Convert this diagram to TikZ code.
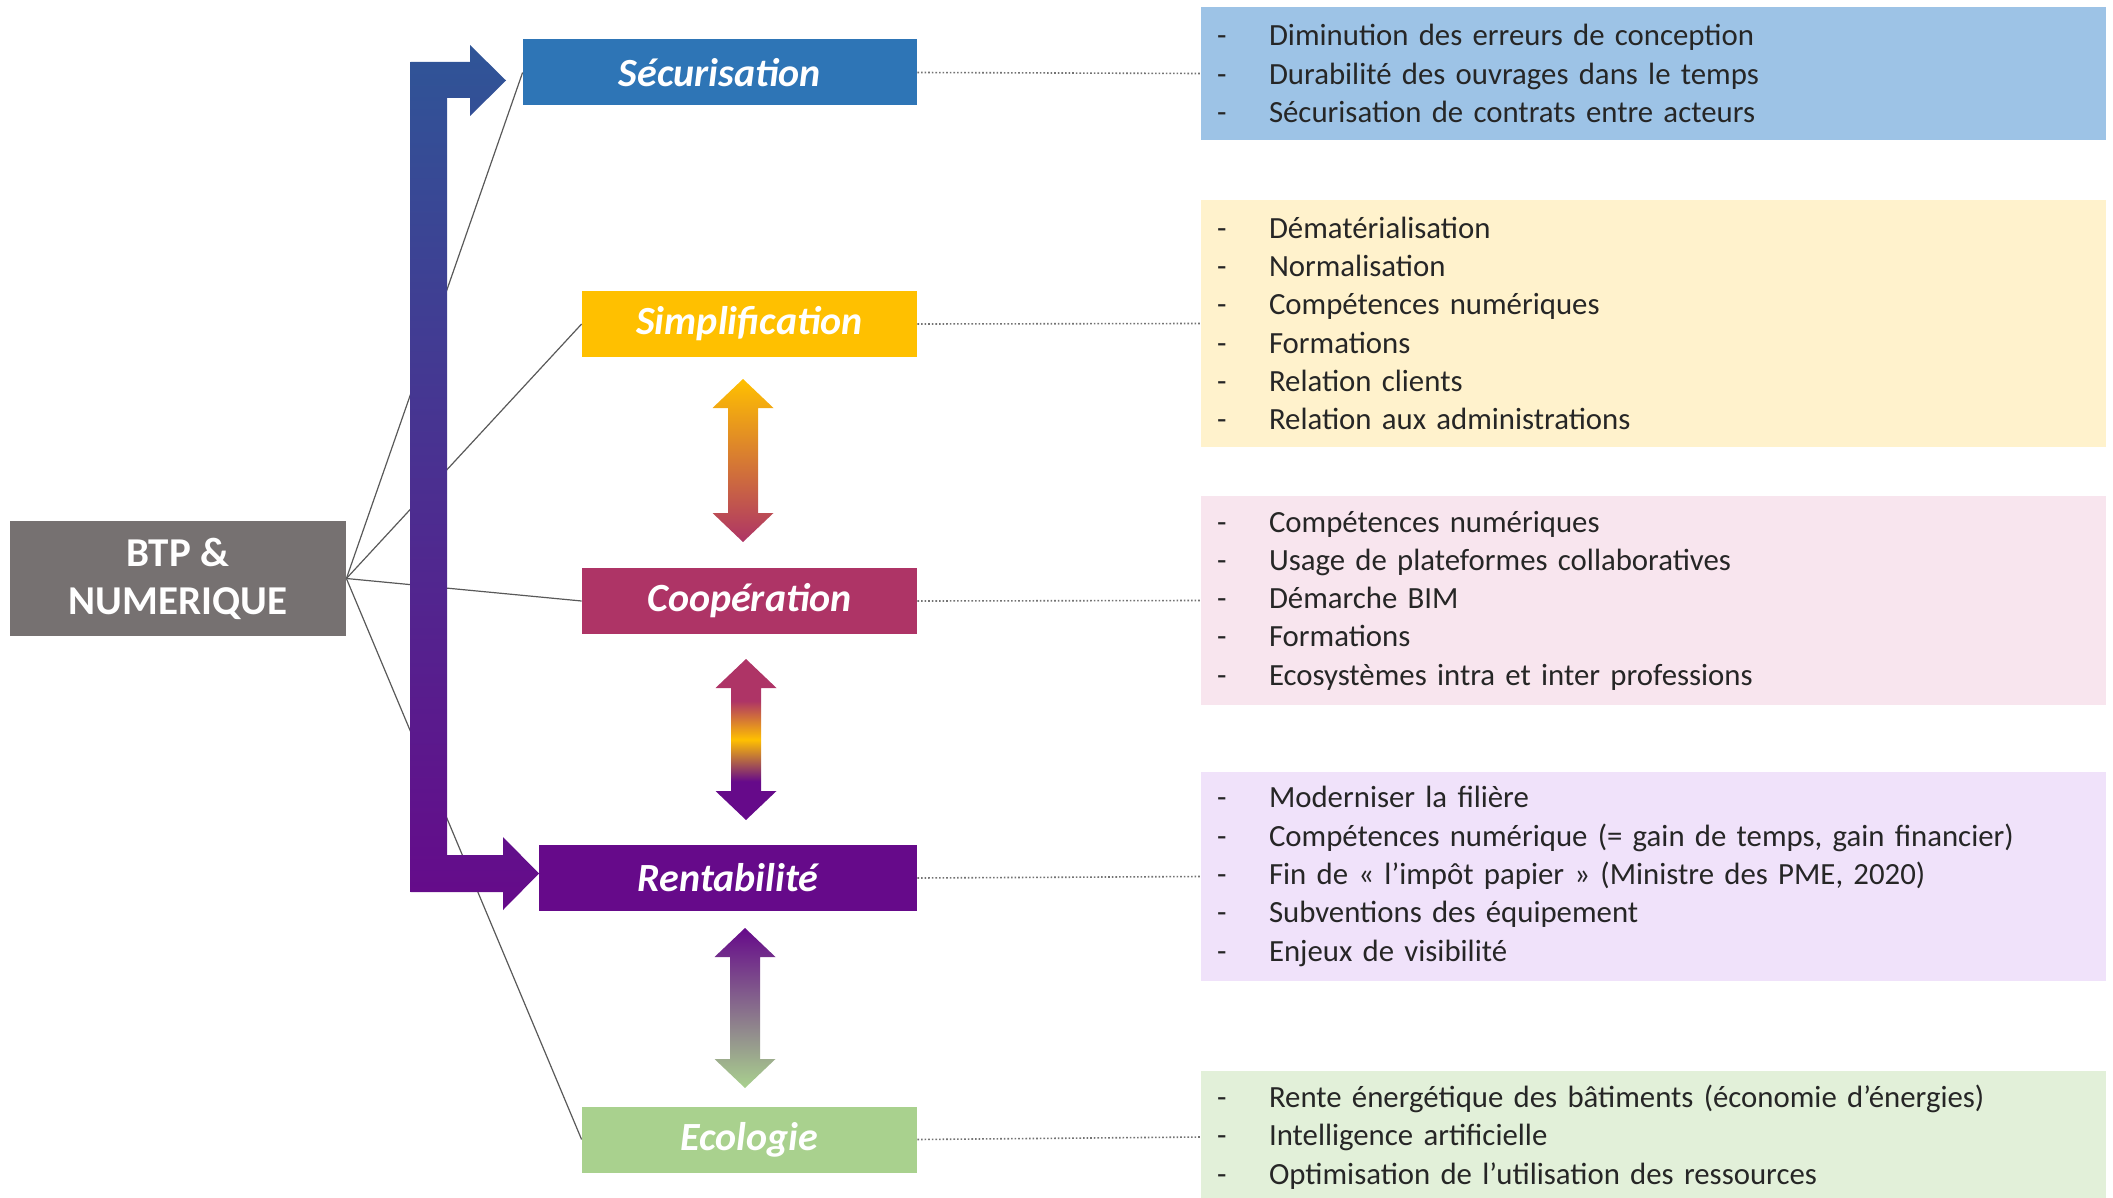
\documentclass[tikz,border=0pt]{standalone}
\usepackage{fontspec}
\setmainfont{Carlito}
\usepackage{tikz}
\usepackage{xcolor}
\definecolor{secc}{HTML}{2E75B6}
\definecolor{simpc}{HTML}{FFC000}
\definecolor{coopc}{HTML}{AE3466}
\definecolor{rentc}{HTML}{660A8A}
\definecolor{ecoc}{HTML}{A9D18E}
\definecolor{btpc}{HTML}{767171}
\definecolor{bluearrow}{HTML}{2F5597}
\definecolor{greyarrow}{HTML}{8C8288}
\definecolor{secfill}{HTML}{9DC3E6}
\definecolor{simpfill}{HTML}{FFF2CC}
\definecolor{coopfill}{HTML}{F8E5EE}
\definecolor{rentfill}{HTML}{F0E2FA}
\definecolor{ecofill}{HTML}{E2F0D9}
\definecolor{linec}{HTML}{595959}
\pgfdeclareverticalshading{coopshade}{100bp}{color(0bp)=(rentc); color(37bp)=(rentc); color(50bp)=(simpc); color(62bp)=(coopc); color(100bp)=(coopc)}
\newcommand{\tiret}{\makebox[26pt][l]{-}}% one line of a list
\newcommand{\dblarrow}[4]{% double arrow: #2 centre x, #3 top tip, #4 bottom tip
\shade[#1] (#2,#3) -- ({#2+30.5},{#3+29}) -- ({#2+15},{#3+29}) -- ({#2+15},{#4-29}) -- ({#2+30.5},{#4-29}) -- (#2,#4)
    -- ({#2-30.5},{#4-29}) -- ({#2-15},{#4-29}) -- ({#2-15},{#3+29}) -- ({#2-30.5},{#3+29}) -- cycle;}
\tikzstyle{titlebox} =[
    rectangle,
    text=white,
    font=\bfseries\itshape\fontsize{20}{24}\selectfont,
    minimum height=33pt,
    inner sep=0pt
    ]
\tikzstyle{infobox} =[
    rectangle,
    align=left,
    text width=436.5pt,
    inner xsep=8pt,
    inner ysep=0pt,
    text=black!85,
    font=\fontsize{15.4}{19.15}\selectfont
    ]
\tikzstyle{link} =[draw=linec, line width=0.6pt]
\tikzstyle{dotlink} =[draw=black!55, line width=0.8pt, densely dotted]

\begin{document}
\begin{tikzpicture}[x=0.5pt, y=-0.5pt]
\useasboundingbox (0,0) rectangle (2113,1198);

\node[titlebox, fill=secc, minimum width=197pt] (sec) at (720,72.5) {Sécurisation};
\node[titlebox, fill=simpc, minimum width=167.5pt] (simp) at (749.5,324) {Simplification};
\node[titlebox, fill=coopc, minimum width=167.5pt] (coop) at (749.5,601) {Coopération};
\node[titlebox, fill=rentc, minimum width=189pt] (rent) at (728,878) {Rentabilité};
\node[titlebox, fill=ecoc, minimum width=167.5pt] (eco) at (749.5,1139.5) {Ecologie};
\node[rectangle, fill=btpc, text=white, align=center, inner sep=0pt,
    font=\bfseries\fontsize{20.5}{24}\selectfont,
    minimum width=168pt, minimum height=57.5pt] (btp) at (178,578.5) {BTP \&\\NUMERIQUE};

\node[infobox, fill=secfill, minimum height=66.5pt] (infosec) at (1653.5,73.5) {%
\tiret Diminution des erreurs de conception\\
\tiret Durabilité des ouvrages dans le temps\\
\tiret Sécurisation de contrats entre acteurs};
\node[infobox, fill=simpfill, minimum height=123.5pt] (infosimp) at (1653.5,323.5) {%
\tiret Dématérialisation\\
\tiret Normalisation\\
\tiret Compétences numériques\\
\tiret Formations\\
\tiret Relation clients\\
\tiret Relation aux administrations};
\node[infobox, fill=coopfill, minimum height=104.5pt] (infocoop) at (1653.5,600.5) {%
\tiret Compétences numériques\\
\tiret Usage de plateformes collaboratives\\
\tiret Démarche BIM\\
\tiret Formations\\
\tiret Ecosystèmes intra et inter professions};
\node[infobox, fill=rentfill, minimum height=104.5pt] (inforent) at (1653.5,876.5) {%
\tiret Moderniser la filière\\
\tiret Compétences numérique (= gain de temps, gain financier)\\
\tiret Fin de «~l’impôt papier~» (Ministre des PME, 2020)\\
\tiret Subventions des équipement\\
\tiret Enjeux de visibilité};
\node[infobox, fill=ecofill, minimum height=66pt] (infoeco) at (1653.5,1137) {%
\tiret Rente énergétique des bâtiments (économie d’énergies)\\
\tiret Intelligence artificielle\\
\tiret Optimisation de l’utilisation des ressources};

\foreach \t in {sec,simp,coop,eco}
    \draw[link] (btp.east) -- (\t.west);
\foreach \t in {sec,simp,coop,rent,eco}
    \draw[dotlink] (\t.east) -- (info\t.west);

% bent arrow
\shade[top color=bluearrow, bottom color=rentc] (410.7,62) -- (470,62) -- (470,45) -- (506,80.5) -- (470,116) -- (470,98)
    -- (447,98) -- (447,855) -- (503,855) -- (503,837) -- (539,873.5) -- (503,910) -- (503,892) -- (410.7,892) -- cycle;

\dblarrow{top color=simpc, bottom color=coopc}{743}{379}{542}
\dblarrow{shading=coopshade}{746}{659}{820}
\dblarrow{top color=rentc, middle color=greyarrow, bottom color=ecoc}{745}{928}{1088}
\end{tikzpicture}
\end{document}
